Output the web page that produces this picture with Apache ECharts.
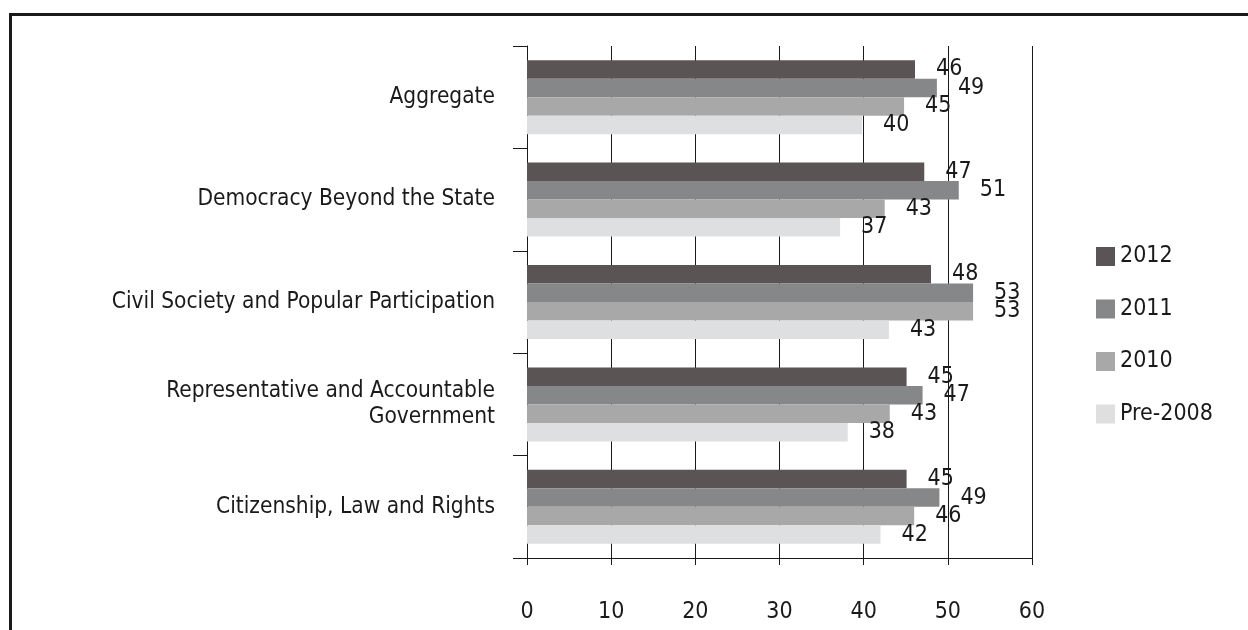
<!DOCTYPE html>
<html>
<head>
<meta charset="utf-8">
<script src="https://cdn.jsdelivr.net/npm/echarts@6/dist/echarts.min.js"></script>
<style>
  html, body { margin: 0; padding: 0; background: #fff; overflow: hidden; }
</style>
</head>
<body>
<div id="main" style="width: 1248px; height: 630px;"></div>
<script>
// data
const categories = [
  'Aggregate',
  'Democracy Beyond the State',
  'Civil Society and Popular Participation',
  'Representative and Accountable\nGovernment',
  'Citizenship, Law and Rights'
];
const years = ['2012', '2011', '2010', 'Pre-2008'];
const s2012 = [46.1, 47.2, 48.0, 45.1, 45.1];
const s2011 = [48.7, 51.3, 53.0, 47.0, 49.0];
const s2010 = [44.8, 42.5, 53.0, 43.1, 46.0];
const pre2008 = [39.8, 37.2, 43.0, 38.1, 42.0];
const xTicks = [0, 60, 10];

const colors = ['#5a5455', '#868789', '#a9a8a9', '#dedfe1'];
const font = "'Liberation Sans Narrow', 'DejaVu Sans Condensed', sans-serif";
const ink = '#1a1a1a';
const fs = 22.5;

let chartDom = document.getElementById('main');
let myChart = echarts.init(chartDom);

function makeSeries(name, data, i) {
  return {
    name: name,
    type: 'bar',
    data: data,
    barGap: '0%',
    barCategoryGap: '27.7%',
    itemStyle: { color: colors[i] },
    label: {
      show: true,
      position: 'right',
      distance: 21,
      color: ink,
      fontFamily: font,
      fontSize: 23,
      formatter: p => Math.round(p.value)
    },
    emphasis: { disabled: true }
  };
}

let option = {
  animation: false,
  color: colors,
  grid: { left: 527, right: 216, top: 46, bottom: 72 },
  graphic: [{
    type: 'rect',
    shape: { x: 10.5, y: 14.5, width: 1400, height: 800 },
    style: { fill: 'none', stroke: ink, lineWidth: 3 }
  }],
  legend: {
    orient: 'vertical',
    left: 1091,
    top: 240,
    itemWidth: 19,
    itemHeight: 19,
    itemGap: 29.5,
    icon: 'rect',
    data: years,
    textStyle: { fontFamily: font, fontSize: 23, color: ink, padding: [0, 0, 0, 0] }
  },
  xAxis: {
    type: 'value',
    min: xTicks[0],
    max: xTicks[1],
    interval: xTicks[2],
    axisLine: { show: true, lineStyle: { color: ink, width: 1 } },
    axisTick: { show: true, length: 7, lineStyle: { color: ink } },
    splitLine: { show: true, lineStyle: { color: ink, width: 1 } },
    axisLabel: { color: ink, fontFamily: font, fontSize: 23, margin: 43 }
  },
  yAxis: {
    type: 'category',
    inverse: true,
    data: categories,
    axisLine: { show: true, lineStyle: { color: ink, width: 1 } },
    axisTick: { show: true, length: 14, lineStyle: { color: ink } },
    axisLabel: { color: ink, fontFamily: font, fontSize: fs, lineHeight: 26, margin: 32, align: 'right' }
  },
  series: [
    makeSeries(years[0], s2012, 0),
    makeSeries(years[1], s2011, 1),
    makeSeries(years[2], s2010, 2),
    makeSeries(years[3], pre2008, 3)
  ]
};

option && myChart.setOption(option);
</script>
</body>
</html>
